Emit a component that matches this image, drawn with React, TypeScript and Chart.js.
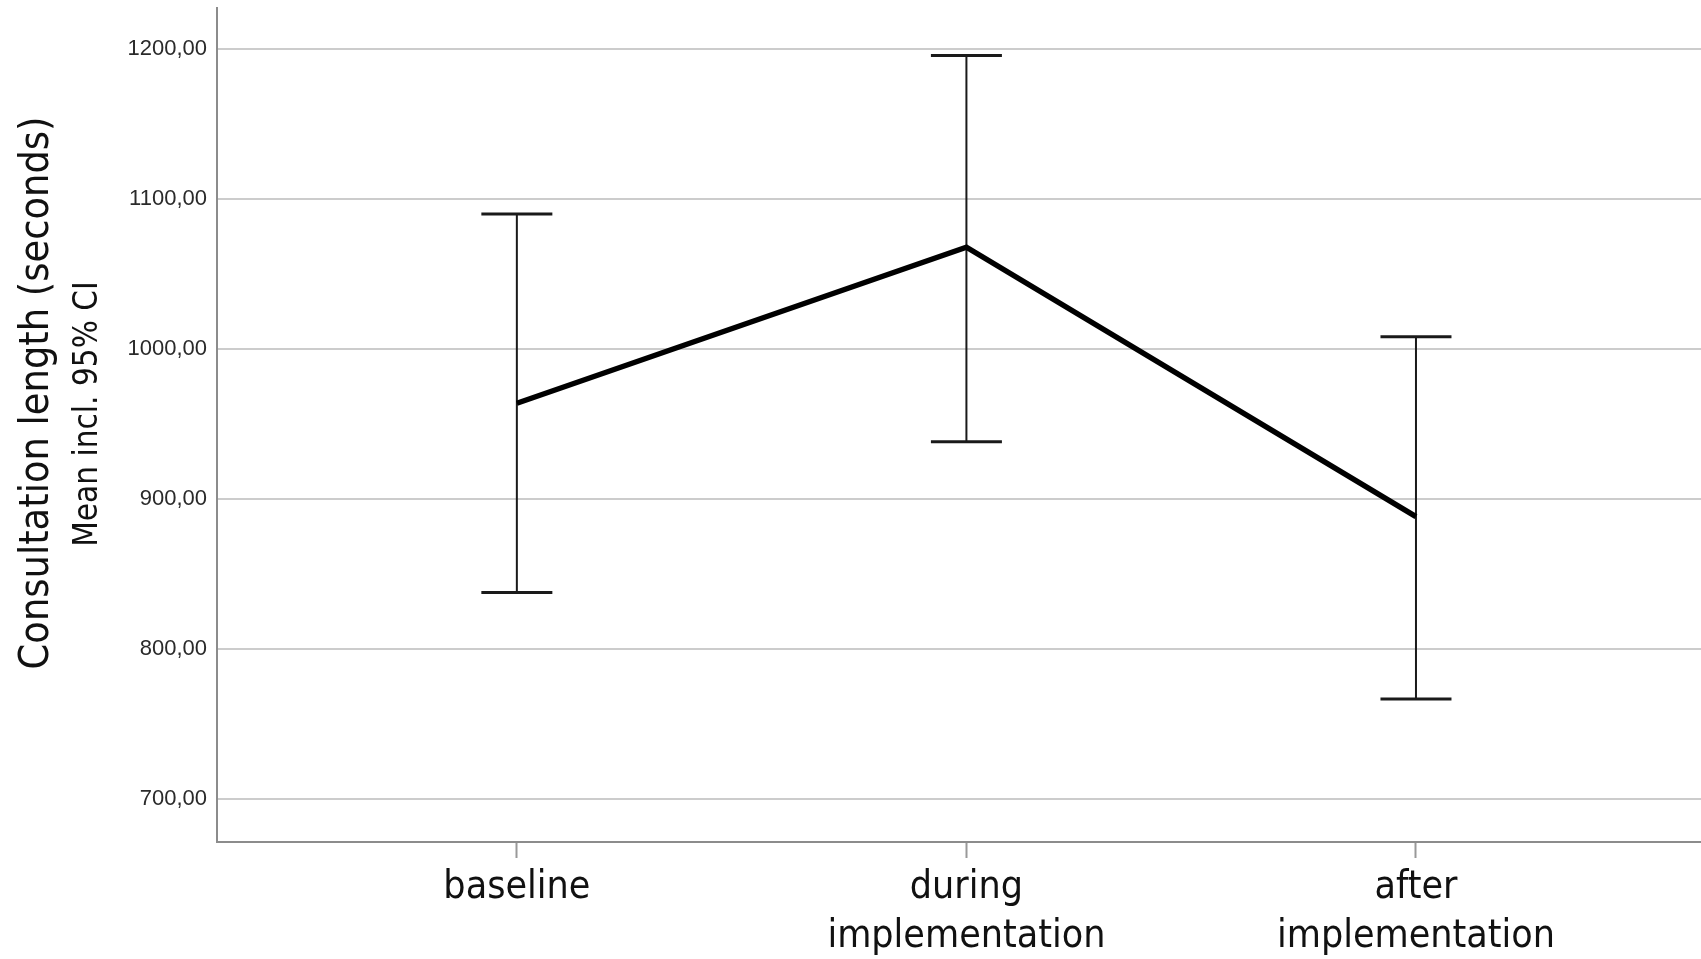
import { useEffect, useRef } from "react";
import { Chart, registerables } from "chart.js";

Chart.register(...registerables);

// ---- data ----
const categories: string[][] = [["baseline"], ["during", "implementation"], ["after", "implementation"]];
const meanValues = [964, 1068, 888.4];
const upperCI = [1090.2, 1195.8, 1008.4];
const lowerCI = [837.8, 938.4, 766.8];
const yTickValues = [700, 800, 900, 1000, 1100, 1200];
const yTitle = "Consultation length (seconds)";
const ySubtitle = "Mean incl. 95% CI";

// ---- axis ranges / styles ----
const Y_MIN = 671.5;
const Y_MAX = 1227.5;
const X_MIN = -0.667;
const X_MAX = 2.634;
const NARROW = '"DejaVu Sans Condensed", "DejaVu Sans", sans-serif';
const REGULAR = '"Liberation Sans", Arial, sans-serif';
const W = 1701;
const H = 959;

const yTitlePlugin = {
  id: "yTitles",
  afterDraw(chart: any) {
    const { ctx, chartArea } = chart;
    const mid = (chartArea.top + chartArea.bottom) / 2;
    ctx.save();
    ctx.fillStyle = "#111";
    ctx.textAlign = "center";
    ctx.textBaseline = "alphabetic";
    ctx.save();
    ctx.translate(48, mid - 32);
    ctx.rotate(-Math.PI / 2);
    ctx.font = `41px ${NARROW}`;
    ctx.fillText(yTitle, 0, 0);
    ctx.restore();
    ctx.save();
    ctx.translate(97, mid - 11);
    ctx.rotate(-Math.PI / 2);
    ctx.font = `33px ${NARROW}`;
    ctx.fillText(ySubtitle, 0, 0);
    ctx.restore();
    ctx.restore();
  },
};

const zeroPad = (s: any) => {
  s.paddingTop = 0;
  s.paddingBottom = 0;
  s.paddingLeft = 0;
  s.paddingRight = 0;
};

export default function App() {
  const ref = useRef<HTMLCanvasElement | null>(null);

  useEffect(() => {
    document.body.style.margin = "0";
    const canvas = ref.current;
    if (!canvas) return;

    const whiskerSets = categories.map((_, i) => ({
      type: "line" as const,
      data: [
        { x: i, y: lowerCI[i] },
        { x: i, y: upperCI[i] },
      ],
      borderColor: "#1a1a1a",
      borderWidth: 2,
      pointStyle: "line" as const,
      pointRadius: 35.5,
      pointHoverRadius: 35.5,
      pointBorderWidth: 3,
      pointBorderColor: "#1a1a1a",
      pointBackgroundColor: "#1a1a1a",
      order: 1,
    }));

    const chart = new Chart(canvas, {
      type: "line",
      data: {
        datasets: [
          {
            data: meanValues.map((v, i) => ({ x: i, y: v })),
            borderColor: "#000",
            borderWidth: 5.5,
            pointRadius: 0,
            pointHoverRadius: 0,
            order: 0,
          },
          ...whiskerSets,
        ] as any,
      },
      options: {
        animation: false,
        responsive: false,
        events: [],
        layout: { autoPadding: false, padding: { top: 8, left: 0, right: 0, bottom: 0 } },
        plugins: { legend: { display: false }, tooltip: { enabled: false } },
        scales: {
          x: {
            type: "linear",
            min: X_MIN,
            max: X_MAX,
            afterBuildTicks: (s: any) => {
              s.ticks = categories.map((_, i) => ({ value: i }));
            },
            afterFit: (s: any) => {
              s.height = H - 842;
              zeroPad(s);
            },
            ticks: {
              autoSkip: false,
              maxRotation: 0,
              padding: 5,
              color: "#111",
              font: { family: NARROW, size: 39, lineHeight: 1.256 },
              callback: (v: any) => categories[Math.round(Number(v))] ?? "",
            },
            grid: {
              drawOnChartArea: false,
              drawTicks: true,
              tickLength: 16,
              tickWidth: 2,
              tickColor: "#999",
            },
            border: { display: true, color: "#8c8c8c", width: 2 },
          },
          y: {
            type: "linear",
            min: Y_MIN,
            max: Y_MAX,
            afterBuildTicks: (s: any) => {
              s.ticks = yTickValues.map((v) => ({ value: v }));
            },
            afterFit: (s: any) => {
              s.width = 217;
              zeroPad(s);
            },
            ticks: {
              padding: 10,
              color: "#2a2a2a",
              font: { family: REGULAR, size: 22 },
              callback: (v: any) => Number(v).toFixed(2).replace(".", ","),
            },
            grid: { color: "#cccccc", lineWidth: 2, drawTicks: false },
            border: { display: true, color: "#8c8c8c", width: 2 },
          },
        },
      },
      plugins: [yTitlePlugin],
    });

    return () => chart.destroy();
  }, []);

  return (
    <div style={{ position: "absolute", left: 0, top: 0, width: W, height: H, background: "#fff" }}>
      <canvas ref={ref} width={W} height={H} style={{ width: W, height: H, display: "block" }} />
    </div>
  );
}
